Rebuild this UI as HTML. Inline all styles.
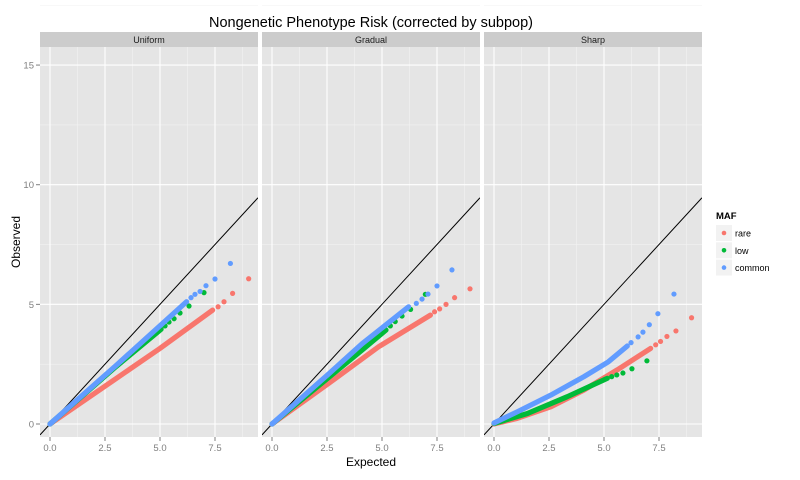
<!DOCTYPE html>
<html><head><meta charset="utf-8"><style>
body{margin:0;background:#fff;}
svg{display:block;font-family:"Liberation Sans",sans-serif;}
</style></head><body>
<svg id="chart" width="800" height="480" viewBox="0 0 800 480"></svg>
<script>
const panels = ["Uniform","Gradual","Sharp"];
const xTicks = [0,2.5,5,7.5];
const xTickLabels = ["0.0","2.5","5.0","7.5"];
const yTicks = [0,5,10,15];
const yTickLabels = ["0","5","10","15"];
const seriesNames = ["rare","low","common"];
const denseUniformRare = [[0,0],[5.0,3.16],[7.39,4.76]];
const denseUniformLow = [[0,0],[3.0,2.4],[5.05,3.96]];
const denseUniformCommon = [[0,0],[3.03,2.47],[6.21,5.11]];
const tailUniformRare = [[7.64,4.90],[7.91,5.11],[8.3,5.46],[9.03,6.07]];
const tailUniformLow = [[5.23,4.10],[5.41,4.26],[5.64,4.40],[5.91,4.64],[6.32,4.93],[7.0,5.49]];
const tailUniformCommon = [[6.41,5.28],[6.59,5.42],[6.82,5.54],[7.09,5.78],[7.5,6.06],[8.2,6.71]];
const denseGradualRare = [[0,0],[2.58,1.70],[4.85,3.23],[7.2,4.55]];
const denseGradualLow = [[0,0],[4.09,3.09],[5.18,3.93]];
const denseGradualCommon = [[0,0],[2.58,2.1],[4.09,3.35],[6.21,4.90]];
const tailGradualRare = [[7.39,4.69],[7.62,4.81],[7.91,5.0],[8.30,5.28],[9.0,5.65]];
const tailGradualLow = [[5.38,4.10],[5.6,4.28],[5.91,4.51],[6.30,4.79],[6.97,5.42]];
const tailGradualCommon = [[6.56,5.04],[6.82,5.22],[7.09,5.43],[7.5,5.77],[8.18,6.44]];
const denseSharpRare = [[0,0],[1.06,0.24],[2.58,0.72],[4.09,1.42],[5.6,2.26],[7.12,3.16]];
const denseSharpLow = [[0,0.02],[1.52,0.44],[3.33,1.14],[5.15,1.91]];
const denseSharpCommon = [[0,0.04],[1.06,0.51],[2.58,1.21],[4.09,1.98],[5.2,2.6],[6.06,3.26]];
const tailSharpRare = [[7.35,3.31],[7.57,3.45],[7.86,3.66],[8.27,3.89],[8.98,4.44]];
const tailSharpLow = [[5.35,1.98],[5.58,2.05],[5.86,2.13],[6.27,2.31],[6.95,2.64]];
const tailSharpCommon = [[6.23,3.40],[6.55,3.64],[6.77,3.84],[7.06,4.15],[7.45,4.61],[8.18,5.43]];

const dense = [[denseUniformRare,denseUniformLow,denseUniformCommon],[denseGradualRare,denseGradualLow,denseGradualCommon],[denseSharpRare,denseSharpLow,denseSharpCommon]];
const tails = [[tailUniformRare,tailUniformLow,tailUniformCommon],[tailGradualRare,tailGradualLow,tailGradualCommon],[tailSharpRare,tailSharpLow,tailSharpCommon]];
const colors = ["#F8766D","#00BA38","#619CFF"];

const NS="http://www.w3.org/2000/svg";
const svg=document.getElementById('chart');
function mk(tag,attrs,parent,text){const e=document.createElementNS(NS,tag);for(const k in attrs)e.setAttribute(k,attrs[k]);if(text!==undefined)e.textContent=text;(parent||svg).appendChild(e);return e;}
const panelLeft=[40,262,484], panelW=218, panelTop=47, panelBottom=437;
const xMin=-0.4545, xMax=9.4545, yMin=-0.543, yMax=15.755;
function sx(p,v){return panelLeft[p]+(v-xMin)/(xMax-xMin)*panelW;}
function sy(v){return panelBottom-(v-yMin)/(yMax-yMin)*(panelBottom-panelTop);}

let t=mk('text',{x:371,y:27,'text-anchor':'middle','font-size':14.5,fill:'#000'},svg,"Nongenetic Phenotype Risk (corrected by subpop)");



for(let p=0;p<3;p++){
  const g=mk('g',{});
  
  
  const L=panelLeft[p];
  let s=mk('rect',{x:L,y:32,width:panelW,height:15,fill:'#cccccc'},g);
  
  
  let st=mk('text',{x:L+panelW/2,y:43,'text-anchor':'middle','font-size':9,fill:'#1a1a1a'},g,panels[p]);
  
  
  let bg=mk('rect',{x:L,y:panelTop,width:panelW,height:panelBottom-panelTop,fill:'#e5e5e5'},g);
  
  
  const clipId='clip'+p;
  const cp=mk('clipPath',{id:clipId},g);mk('rect',{x:L,y:panelTop,width:panelW,height:panelBottom-panelTop},cp);
  for(let i=0;i<xTicks.length;i++){
    const m=xTicks[i]+1.25;
    let ml=mk('line',{x1:sx(p,m),x2:sx(p,m),y1:panelTop,y2:panelBottom,stroke:'#f2f2f2','stroke-width':0.6},g);
    
  }
  for(let i=0;i<yTicks.length;i++){
    const m=yTicks[i]+2.5;
    let ml=mk('line',{x1:L,x2:L+panelW,y1:sy(m),y2:sy(m),stroke:'#f2f2f2','stroke-width':0.6},g);
    
  }
  for(let i=0;i<xTicks.length;i++){
    const x=sx(p,xTicks[i]);
    let gl=mk('line',{x1:x,x2:x,y1:panelTop,y2:panelBottom,stroke:'#fff','stroke-width':1.1},g);
    
    let tk=mk('line',{x1:x,x2:x,y1:panelBottom,y2:panelBottom+4,stroke:'#7f7f7f','stroke-width':1},g);
    
    let tl=mk('text',{x:x,y:panelBottom+14,'text-anchor':'middle','font-size':9.5,fill:'#7f7f7f'},g,xTickLabels[i]);
    
  }
  for(let i=0;i<yTicks.length;i++){
    const y=sy(yTicks[i]);
    let gl=mk('line',{x1:L,x2:L+panelW,y1:y,y2:y,stroke:'#fff','stroke-width':1.1},g);
    
  }
  const pg=mk('g',{'clip-path':'url(#'+clipId+')'},g);
  let dl=mk('line',{x1:sx(p,xMin),y1:sy(xMin),x2:sx(p,xMax),y2:sy(xMax),stroke:'#000','stroke-width':1},pg);
  
  for(let k=0;k<3;k++){
    const pts=dense[p][k].map(d=>sx(p,d[0]).toFixed(1)+','+sy(d[1]).toFixed(1)).join(' ');
    let pl=mk('polyline',{points:pts,fill:'none',stroke:colors[k],'stroke-width':5.2,'stroke-linecap':'round','stroke-linejoin':'round'},pg);
    
    tails[p][k].forEach(d=>{
      let c=mk('circle',{cx:sx(p,d[0]),cy:sy(d[1]),r:2.6,fill:colors[k]},pg);
      
    });
  }
}
for(let i=0;i<yTicks.length;i++){
  const y=sy(yTicks[i]);
  let tk=mk('line',{x1:36,x2:40,y1:y,y2:y,stroke:'#7f7f7f','stroke-width':1});
  
  let tl=mk('text',{x:34,y:y+3.5,'text-anchor':'end','font-size':9.5,fill:'#7f7f7f'},svg,yTickLabels[i]);
  
}
let xt=mk('text',{x:371,y:466,'text-anchor':'middle','font-size':12,fill:'#000'},svg,"Expected");

let yt=mk('text',{x:20,y:242,'text-anchor':'middle','font-size':12,fill:'#000',transform:'rotate(-90 20 242)'},svg,"Observed");

const lg=mk('g',{});

let lt=mk('text',{x:716,y:219,'font-size':9.5,'font-weight':'bold',fill:'#000'},lg,"MAF");

for(let k=0;k<3;k++){
  const y=225+k*17.3;
  const e=mk('g',{},lg);
  
  mk('rect',{x:716,y:y,width:16,height:16,fill:'#f2f2f2'},e);
  mk('circle',{cx:724,cy:y+8,r:2.3,fill:colors[k]},e);
  mk('text',{x:735,y:y+11.5,'font-size':9,fill:'#000'},e,seriesNames[k]);
}
</script>
</body></html>
